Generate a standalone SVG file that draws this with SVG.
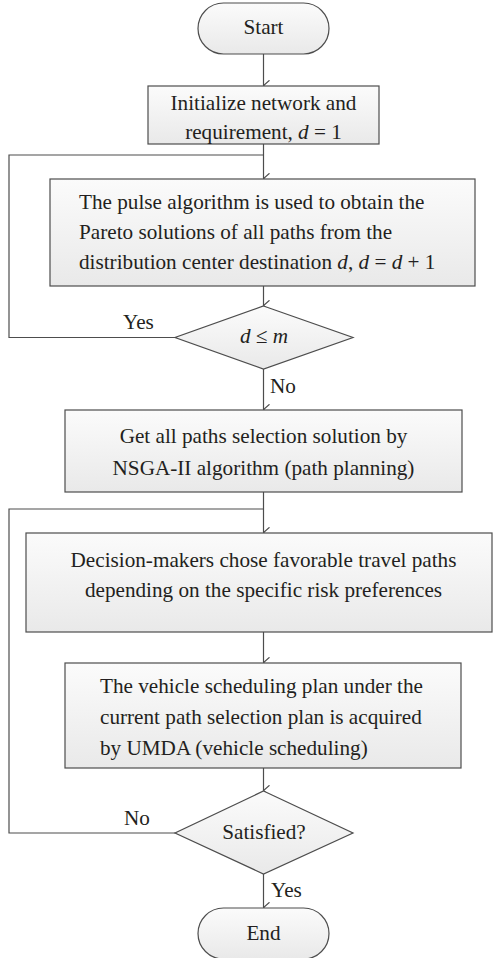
<svg xmlns="http://www.w3.org/2000/svg" width="493" height="958" viewBox="0 0 493 958">
<style>
.n{stroke:#4d4d4d;stroke-width:1.2;fill:url(#g)}
.c{stroke:#4d4d4d;stroke-width:1.2;fill:none}
text{font-family:"Liberation Serif","Times New Roman",serif;font-size:21.2px;fill:#231f20}
.m{text-anchor:middle}
.i{font-style:italic}
</style>
<defs>
<linearGradient id="g" x1="0" y1="0" x2="0" y2="1">
<stop offset="0" stop-color="#fbfbfb"/>
<stop offset="1" stop-color="#e9e9e9"/>
</linearGradient>
<marker id="a" viewBox="0 0 12 8" refX="6" refY="7.5" markerWidth="12" markerHeight="8" markerUnits="userSpaceOnUse" orient="auto-start-reverse">
<path d="M0.8,1.5 L6,7.5 L11.2,1.5" fill="none" stroke="#4d4d4d" stroke-width="1.2"/>
</marker>
</defs>
<g id="connectors">
<path class="c" d="M263.5,54 V85.5" marker-end="url(#a)"/>
<path class="c" d="M263.5,144 V178.5" marker-end="url(#a)"/>
<path class="c" d="M175,337.5 H9 V155 H263.5"/>
<path class="c" d="M263.5,286 V305.5" marker-end="url(#a)"/>
<path class="c" d="M263.5,369 V409.5" marker-end="url(#a)"/>
<path class="c" d="M263.5,492 V532.5" marker-end="url(#a)"/>
<path class="c" d="M175,833 H9 V509 H263.5"/>
<path class="c" d="M263.5,632 V662.5" marker-end="url(#a)"/>
<path class="c" d="M263.5,768 V790.5" marker-end="url(#a)"/>
<path class="c" d="M263.5,874 V907.5" marker-end="url(#a)"/>
<text x="123" y="329">Yes</text>
<text x="270" y="393">No</text>
<text x="124" y="825">No</text>
<text x="271" y="897">Yes</text>
</g>
<g id="start">
<rect class="n" x="198" y="3" width="131" height="51" rx="25.5"/>
<text class="m" x="263.5" y="34">Start</text>
</g>
<g id="init">
<rect class="n" x="148" y="86" width="231" height="58"/>
<text class="m" x="263.5" y="110">Initialize network and</text>
<text class="m" x="263.5" y="139">requirement, <tspan class="i">d</tspan> = 1</text>
</g>
<g id="pulse">
<rect class="n" x="50" y="179" width="425" height="107"/>
<text x="79" y="209">The pulse algorithm is used to obtain the</text>
<text x="79" y="239">Pareto solutions of all paths from the</text>
<text x="79" y="269">distribution center destination <tspan class="i">d</tspan>, <tspan class="i">d</tspan> = <tspan class="i">d</tspan> + 1</text>
</g>
<g id="cond1">
<polygon class="n" points="263.5,306 353,337.5 263.5,369 175,337.5"/>
<text class="m i" x="264" y="343">d ≤ m</text>
</g>
<g id="nsga">
<rect class="n" x="65" y="410" width="397" height="82"/>
<text class="m" x="263.5" y="443">Get all paths selection solution by</text>
<text class="m" x="263.5" y="475">NSGA-II algorithm (path planning)</text>
</g>
<g id="decision">
<rect class="n" x="26" y="533" width="466" height="99"/>
<text class="m" x="263.5" y="567">Decision-makers chose favorable travel paths</text>
<text class="m" x="263.5" y="597">depending on the specific risk preferences</text>
</g>
<g id="umda">
<rect class="n" x="65" y="663" width="396" height="105"/>
<text x="100" y="693">The vehicle scheduling plan under the</text>
<text x="100" y="724">current path selection plan is acquired</text>
<text x="100" y="755">by UMDA (vehicle scheduling)</text>
</g>
<g id="cond2">
<polygon class="n" points="263.5,791 353,833 263.5,874 175,833"/>
<text class="m" x="264" y="839">Satisfied?</text>
</g>
<g id="end">
<rect class="n" x="198" y="908" width="131" height="51" rx="25.5"/>
<text class="m" x="263.5" y="940">End</text>
</g>
</svg>
